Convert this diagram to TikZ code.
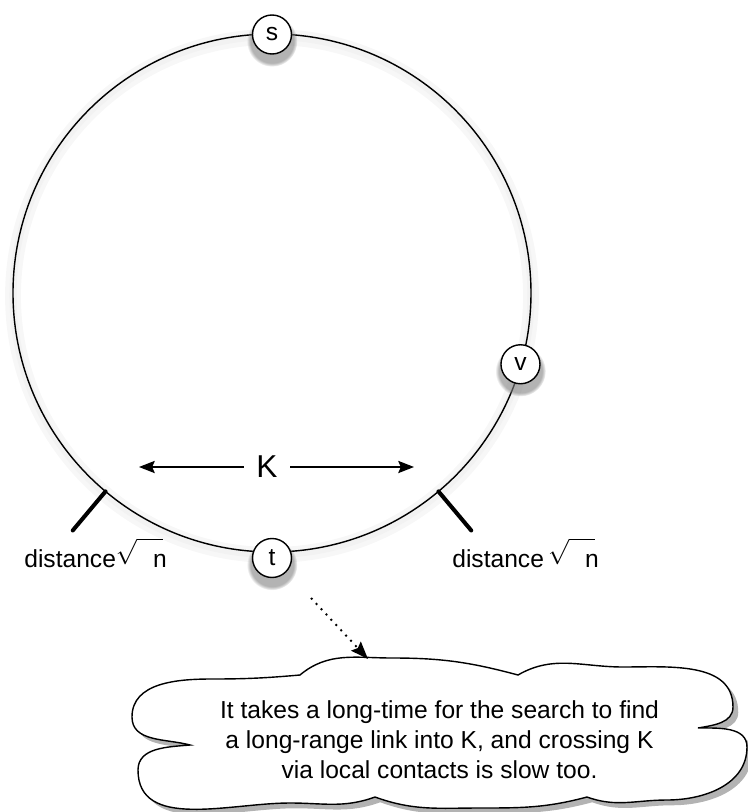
\documentclass[tikz,border=0pt]{standalone}
\usepackage{fontspec}
\setmainfont{Liberation Sans}
\usetikzlibrary{arrows.meta,positioning,shadows}

\newcommand{\sqrtn}{\raisebox{0.1em}{$\sqrt{\rule{0pt}{0.95em}\hbox to 1.05em{}}$}\kern-0.4em n}

\begin{document}
\begin{tikzpicture}[
    every node/.style={font=\fontsize{14}{17}\selectfont},
    ringnode/.style={circle, draw, line width=0.8pt, fill=white, inner sep=0pt, minimum size=0.78cm,
        circular drop shadow={shadow xshift=0pt, shadow yshift=-3pt, shadow scale=1.3, opacity=0.6}},
    cutmark/.style={line width=2.3pt, line cap=round},
    span/.style={line width=0.7pt, -{Stealth[length=9pt, width=7pt, inset=1.5pt]}},
    pointer/.style={line width=1.1pt, dash pattern=on 1.1pt off 3pt, -{Stealth[length=10pt, width=7.5pt, inset=1.5pt]}},
]
\useasboundingbox (-5.44,5.86) rectangle (9.52,-10.38);

% Ring
\def\ringr{5.18}
\draw[black!3, line width=9pt] (0,-0.06) circle (\ringr);
\draw[black!5, line width=4pt] (0,-0.05) circle (\ringr);
\draw[line width=0.8pt] (0,0) circle (\ringr);

% Nodes on the ring
\node[ringnode] (s) at (90:5.17) {s};
\node[ringnode] (v) at (-16:5.17) {v};
\node[ringnode] (t) at (-90:5.30) {t};

% Ends of the stretch K
\foreach \angle/\side in {230/left, -50/right} {
    \draw[cutmark] (\angle:\ringr) -- (\angle:6.2) coordinate (mark\side);
}
\node[anchor=base west, inner sep=0pt] (distl) at (-4.96,-5.48) {distance\sqrtn};
\node[anchor=base west, inner sep=0pt] (distr) at (3.60,-5.48) {distance\,\sqrtn};

% Width K
\node[font=\fontsize{18}{20}\selectfont, inner xsep=7pt] (K) at (-0.1,-3.48) {K};
\coordinate (kleft) at (-2.66,-3.48);
\coordinate (kright) at (2.84,-3.48);
\draw[span] (K) -- (kleft);
\draw[span] (K) -- (kright);

% Cloud
\draw[line width=0.8pt, fill=white, drop shadow={shadow xshift=3pt, shadow yshift=-3pt, opacity=0.6}]
    (0.56,-7.64) to[out=40,in=180] (2.4,-7.30) to[out=0,in=165] (4.92,-7.64)
    to[out=30,in=180] (7.02,-7.48) to[out=0,in=90] (9.22,-8.28) to[out=-90,in=10] (8.52,-8.70)
    to[out=0,in=90] (9.50,-9.08) to[out=-90,in=0] (7.9,-10.14) to[out=180,in=-20] (6.30,-10.08)
    to[out=-165,in=0] (4.16,-10.30) to[out=180,in=-20] (2.06,-10.08)
    to[out=-160,in=0] (0.36,-10.20) to[out=180,in=-90] (-2.68,-9.54) to[out=90,in=-175] (-1.64,-9.04)
    to[out=165,in=-90] (-2.80,-8.48) to[out=90,in=180] (-1.2,-7.72) to[out=0,in=-175] (0.56,-7.64)
    -- cycle;
\coordinate (cloudtip) at (1.92,-7.32);
\node[align=center] (note) at (3.35,-8.94) {It takes a long-time for the search to find\\
    a long-range link into K, and crossing K\\
    via local contacts is slow too.};

% Pointer from t to the cloud
\coordinate (start) at (0.78,-6.10);
\draw[pointer] (start) -- (cloudtip);

\end{tikzpicture}
\end{document}
